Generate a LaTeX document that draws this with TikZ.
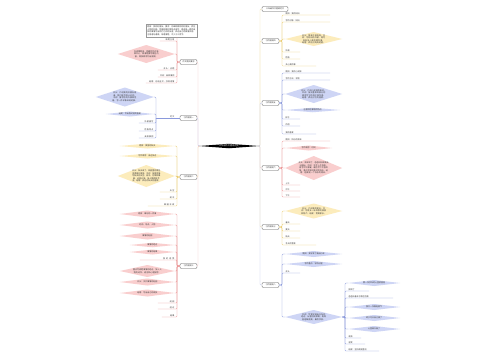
\documentclass[tikz,border=0pt]{standalone}
\usepackage{fontspec}
\newfontfamily\cjk{Noto Sans CJK SC}
\XeTeXlinebreaklocale "zh"
\XeTeXlinebreakskip = 0pt plus 0.2pt
\usetikzlibrary{positioning}
\definecolor{pkfill}{RGB}{249,206,206}
\definecolor{pkline}{RGB}{236,150,150}
\definecolor{blfill}{RGB}{206,213,245}
\definecolor{blline}{RGB}{138,153,220}
\definecolor{ylfill}{RGB}{252,236,188}
\definecolor{ylline}{RGB}{234,204,110}

\tikzset{
  tx/.style={font=\cjk\fontsize{2}{2.5}\selectfont, text=black!80},
  lvbox/.style={tx, draw=black!65, fill=white, rounded corners=1.2pt,
    line width=0.35pt, minimum width=17pt, minimum height=5pt, inner sep=0.4pt},
  dia/.style={tx, inner sep=0pt, align=center,
    path picture={\fill[#1] (path picture bounding box.west) -- (path picture bounding box.north)
      -- (path picture bounding box.east) -- (path picture bounding box.south) -- cycle;}},
  pkd/.style={dia=pkfill}, bld/.style={dia=blfill}, yld/.style={dia=ylfill},
  llab/.style={tx, inner sep=0.4pt, anchor=south east, text width=#1, align=right},
  rlab/.style={tx, inner sep=0.4pt, anchor=south west, text width=#1, align=left},
  pkc/.style={draw=pkline, line width=0.35pt, rounded corners=1pt},
  blc/.style={draw=blline, line width=0.35pt, rounded corners=1pt},
  ylc/.style={draw=ylline, line width=0.35pt, rounded corners=1pt},
  pkt/.style={pkc, draw=pkline!55}, blt/.style={blc, draw=blline!55}, ylt/.style={ylc, draw=ylline!60}
}

\begin{document}
\begin{tikzpicture}[x=1pt, y=-1pt]
\fill[white] (0,0) rectangle (500,360);
\useasboundingbox (0,0) rectangle (500,360);

% centre
\node[dia=black, text=white, minimum width=60pt, minimum height=4.5pt,
  font=\cjk\fontsize{2.2}{2.5}\selectfont] (root) at (229,146) {三年级作文提纲范文};
\coordinate (ltr) at (198,146);
\coordinate (rtr) at (260,146);

% left 1
\node[lvbox] (l1) at (188.5,62) {作文题目要求};
\coordinate (l1v) at (177,62);
\draw[pkt] (root.west) -- (ltr) |- (l1.east);
\node[tx, draw=black!40, fill=white, line width=0.3pt, text width=48pt, inner sep=1.5pt,
  align=left, anchor=south east] (l1t) at (197,37)
  {题目：我的好朋友。要求：仔细观察你的好朋友，抓住人物的外貌、性格和爱好等特点来写，再选择一两件具体的事情写出你们之间的友谊，表达自己的真情实感。注意语句通顺，条理清楚，不少于三百字。};
\draw[pkc] (l1.west) -- (l1v) -- (l1v |- l1t.south);
\node[pkd, anchor=east, minimum width=57pt, minimum height=18pt, text width=26pt] (l1b) at (175,54)
  {先读懂题目，明确写作对象和中心，想清楚要写哪些内容，再按顺序列出提纲。};
\draw[pkc] (l1.west) -- (l1v) |- (l1b.east);
\foreach \n/\y/\w/\t in {a/41/14/审题立意, c/70/16/开头：点题, d/77/16/中间：具体事例,
    e/83/28/结尾：总结全文，抒发感情} {
  \node[llab=\w pt] (l1\n) at (175,\y) {\t};
  \draw[pkc] (l1.west) -- (l1v) |- (l1\n.south east) -- (l1\n.south west);
}

% left 2
\node[lvbox] (l2) at (188.5,118) {习作提纲一};
\coordinate (l2v) at (156,118);
\draw[blt] (root.west) -- (ltr) |- (l2.east);
\node[llab=10pt] (l2a) at (175,118) {范文};
\draw[blc] (l2.west) -- (l2v);
\node[bld, anchor=east, minimum width=58pt, minimum height=19pt, text width=28pt] (l2b) at (154,97)
  {开头：介绍我的好朋友是谁，我们是怎样认识的。中间：描写他的外貌和性格，写一件印象深刻的事。};
\draw[blc] (l2v) |- (l2b.east);
\node[bld, anchor=east, minimum width=48pt, minimum height=5pt] (l2c) at (154,114) {结尾：写出我对他的喜爱};
\draw[blc] (l2v) |- (l2c.east);
\foreach \n/\y/\t in {d/123/外貌描写, e/131/性格特点, f/138/具体事例} {
  \node[llab=14pt] (l2\n) at (154,\y) {\t};
  \draw[blc] (l2v) |- (l2\n.south east) -- (l2\n.south west);
}

% left 3
\node[lvbox] (l3) at (188.5,177) {习作提纲二};
\coordinate (l3v) at (177,177);
\draw[ylt] (root.west) -- (ltr) |- (l3.east);
\foreach \n/\y/\t in {a/146/题目：美丽的秋天, b/156/写作顺序：由远及近} {
  \node[yld, anchor=east, minimum width=55pt, minimum height=5pt] (l3\n) at (175,\y) {\t};
  \draw[ylc] (l3.west) -- (l3v) |- (l3\n.east);
}
\node[yld, anchor=east, minimum width=57pt, minimum height=22pt, text width=28pt] (l3c) at (175,176)
  {开头：秋天来了，校园里的景色变得格外美丽。中间：按顺序描写秋天的天空、树木、花草和果园，运用比喻、拟人等修辞手法。结尾：表达对秋天的喜爱。};
\draw[ylc] (l3.west) -- (l3v) |- (l3c.east);
\foreach \n/\y/\w/\t in {d/192/14/天空, e/199/14/树木, f/206/26/果园丰收} {
  \node[llab=\w pt] (l3\n) at (175,\y) {\t};
  \draw[ylc] (l3.west) -- (l3v) |- (l3\n.south east) -- (l3\n.south west);
}

% left 4
\node[lvbox] (l4) at (188.5,266) {习作提纲三};
\coordinate (l4v) at (177,266);
\draw[pkt] (root.west) -- (ltr) |- (l4.east);
\foreach \n/\y/\w/\h/\t in {a/214/55/7/题目：难忘的一件事, b/225/55/7/时间、地点、人物,
    c/236/55/7/事情的起因, d/245/45/4.5/事情的经过, e/252/45/5/事情的结果,
    g/282/55/7/开头：交代事情的起因, h/293/55/7/结尾：写出自己的收获} {
  \node[pkd, anchor=east, minimum width=\w pt, minimum height=\h pt] (l4\n) at (175,\y) {\t};
  \draw[pkc] (l4.west) -- (l4v) |- (l4\n.east);
}
\node[pkd, anchor=east, minimum width=55pt, minimum height=12pt, text width=30pt] (l4f) at (175,271)
  {重点写清楚事情的经过，加入人物的动作、语言和心理描写。};
\draw[pkc] (l4.west) -- (l4v) |- (l4f.east);
\foreach \n/\y/\w/\t in {m/260/34/我的感受, i/303/16/起因, j/309/16/经过, k/317/12/结果} {
  \node[llab=\w pt] (l4\n) at (175,\y) {\t};
  \draw[pkc] (l4.west) -- (l4v) |- (l4\n.south east) -- (l4\n.south west);
}

% right 1
\node[lvbox, minimum width=26pt] (r1) at (275,9) {三年级作文提纲范文};
\draw[ylt] (root.east) -- (rtr) |- (r1.west);

% right 2
\node[lvbox] (r2) at (270.5,41) {习作提纲四};
\coordinate (r2v) at (282,41);
\draw[ylt] (root.east) -- (rtr) |- (r2.west);
\foreach \n/\y/\w/\t in {a/15/44/题目：我的妈妈, b/22/44/写作对象：妈妈, d/52/14/外貌,
    e/59/14/性格, f/66/30/关心我的事} {
  \node[rlab=\w pt] (r2\n) at (285,\y) {\t};
  \draw[ylc] (r2.east) -- (r2v) |- (r2\n.south west) -- (r2\n.south east);
}
\node[yld, anchor=west, minimum width=57pt, minimum height=14pt, text width=28pt] (r2c) at (285,39)
  {开头：简单介绍妈妈。中间：写妈妈的外貌，再写妈妈关心我的两件事。结尾：表达对妈妈的爱。};
\draw[ylc] (r2.east) -- (r2v) |- (r2c.west);

% right 3
\node[lvbox] (r3) at (270.5,103) {习作提纲五};
\coordinate (r3v) at (282,103);
\draw[blt] (root.east) -- (rtr) |- (r3.west);
\foreach \n/\y/\w/\t in {a/73/44/题目：我的小闹钟, b/80/44/写作方法：状物, e/119/14/样子,
    f/126/14/作用, g/134/30/我的喜爱} {
  \node[rlab=\w pt] (r3\n) at (285,\y) {\t};
  \draw[blc] (r3.east) -- (r3v) |- (r3\n.south west) -- (r3\n.south east);
}
\node[bld, anchor=west, minimum width=57pt, minimum height=18pt, text width=28pt] (r3c) at (285,94)
  {开头：介绍小闹钟的来历。中间：按从整体到部分的顺序写它的样子和作用。结尾：表达对它的喜爱。};
\draw[blc] (r3.east) -- (r3v) |- (r3c.west);
\node[bld, anchor=west, minimum width=55pt, minimum height=4.5pt] (r3d) at (285,110) {注意抓住事物的特点};
\draw[blc] (r3.east) -- (r3v) |- (r3d.west);

% right 4
\node[lvbox] (r4) at (270.5,168) {习作提纲六};
\coordinate (r4v) at (282,168);
\draw[pkt] (root.east) -- (rtr) |- (r4.west);
\foreach \n/\y/\w/\t in {a/141/44/题目：快乐的周末, d/185/14/上午, e/191/14/中午, f/197/14/下午} {
  \node[rlab=\w pt] (r4\n) at (285,\y) {\t};
  \draw[pkc] (r4.east) -- (r4v) |- (r4\n.south west) -- (r4\n.south east);
}
\node[pkd, anchor=west, minimum width=47pt, minimum height=5pt] (r4b) at (285,148) {写作顺序：时间};
\draw[pkc] (r4.east) -- (r4v) |- (r4b.west);
\node[pkd, anchor=west, minimum width=57pt, minimum height=24pt, text width=30pt] (r4c) at (285,168)
  {开头：周末到了，爸爸妈妈带我去公园玩。中间：先写上午划船，再写中午野餐，最后写下午放风筝，重点写放风筝时的快乐。结尾：这真是一个快乐的周末。};
\draw[pkc] (r4.east) -- (r4v) |- (r4c.west);

% right 5
\node[lvbox] (r5) at (270.5,227) {习作提纲七};
\coordinate (r5v) at (282,227);
\draw[ylt] (root.east) -- (rtr) |- (r5.west);
\node[yld, anchor=west, minimum width=57pt, minimum height=15pt, text width=28pt] (r5a) at (285,211)
  {开头：介绍我的家乡。中间：写家乡一年四季的美景和特产。结尾：赞美家乡。};
\draw[ylc] (r5.east) -- (r5v) |- (r5a.west);
\foreach \n/\y/\w/\t in {b/224/14/春天, c/231/14/夏天, d/238/14/秋天, e/245/30/冬天的雪景} {
  \node[rlab=\w pt] (r5\n) at (285,\y) {\t};
  \draw[ylc] (r5.east) -- (r5v) |- (r5\n.south west) -- (r5\n.south east);
}

% right 6
\node[lvbox] (r6) at (270.5,285) {习作提纲八};
\coordinate (r6v) at (282,285);
\draw[blt] (root.east) -- (rtr) |- (r6.west);
\foreach \n/\y/\t in {a/254/题目：我学会了骑自行车, b/264/写作重点：学的过程} {
  \node[bld, anchor=west, minimum width=57pt, minimum height=6pt] (r6\n) at (285,\y) {\t};
  \draw[blc] (r6.east) -- (r6v) |- (r6\n.west);
}
\node[rlab=14pt] (r6c) at (285,273) {开头};
\draw[blc] (r6.east) -- (r6v) |- (r6c.south west) -- (r6c.south east);
\node[bld, anchor=west, minimum width=57pt, minimum height=14pt, text width=28pt] (r6d) at (285,317)
  {中间：写我学骑自行车的经过，从害怕到摔倒，再到爸爸鼓励我，最后学会。};
\draw[blc] (r6.east) -- (r6v) |- (r6d.west);
\coordinate (r6w) at (345,317);
\foreach \n/\y/\t in {e/283/第一次学车时心里很害怕, h/307/我又一次鼓起勇气, i/318/终于可以自己骑了,
    j/329/心里高兴极了} {
  \node[bld, anchor=west, minimum width=52pt, minimum height=6pt] (r6\n) at (348,\y) {\t};
  \draw[blc] (r6d.east) -- (r6w) |- (r6\n.west);
}
\foreach \n/\y/\w/\t in {f/291/20/摔倒了, g/298/44/爸爸扶着车子跟在后面, k/338/12/收获,
    l/344/16/感受, m/351/30/结尾：坚持就是胜利} {
  \node[rlab=\w pt] (r6\n) at (348,\y) {\t};
  \draw[blc] (r6d.east) -- (r6w) |- (r6\n.south west) -- (r6\n.south east);
}
\end{tikzpicture}
\end{document}
